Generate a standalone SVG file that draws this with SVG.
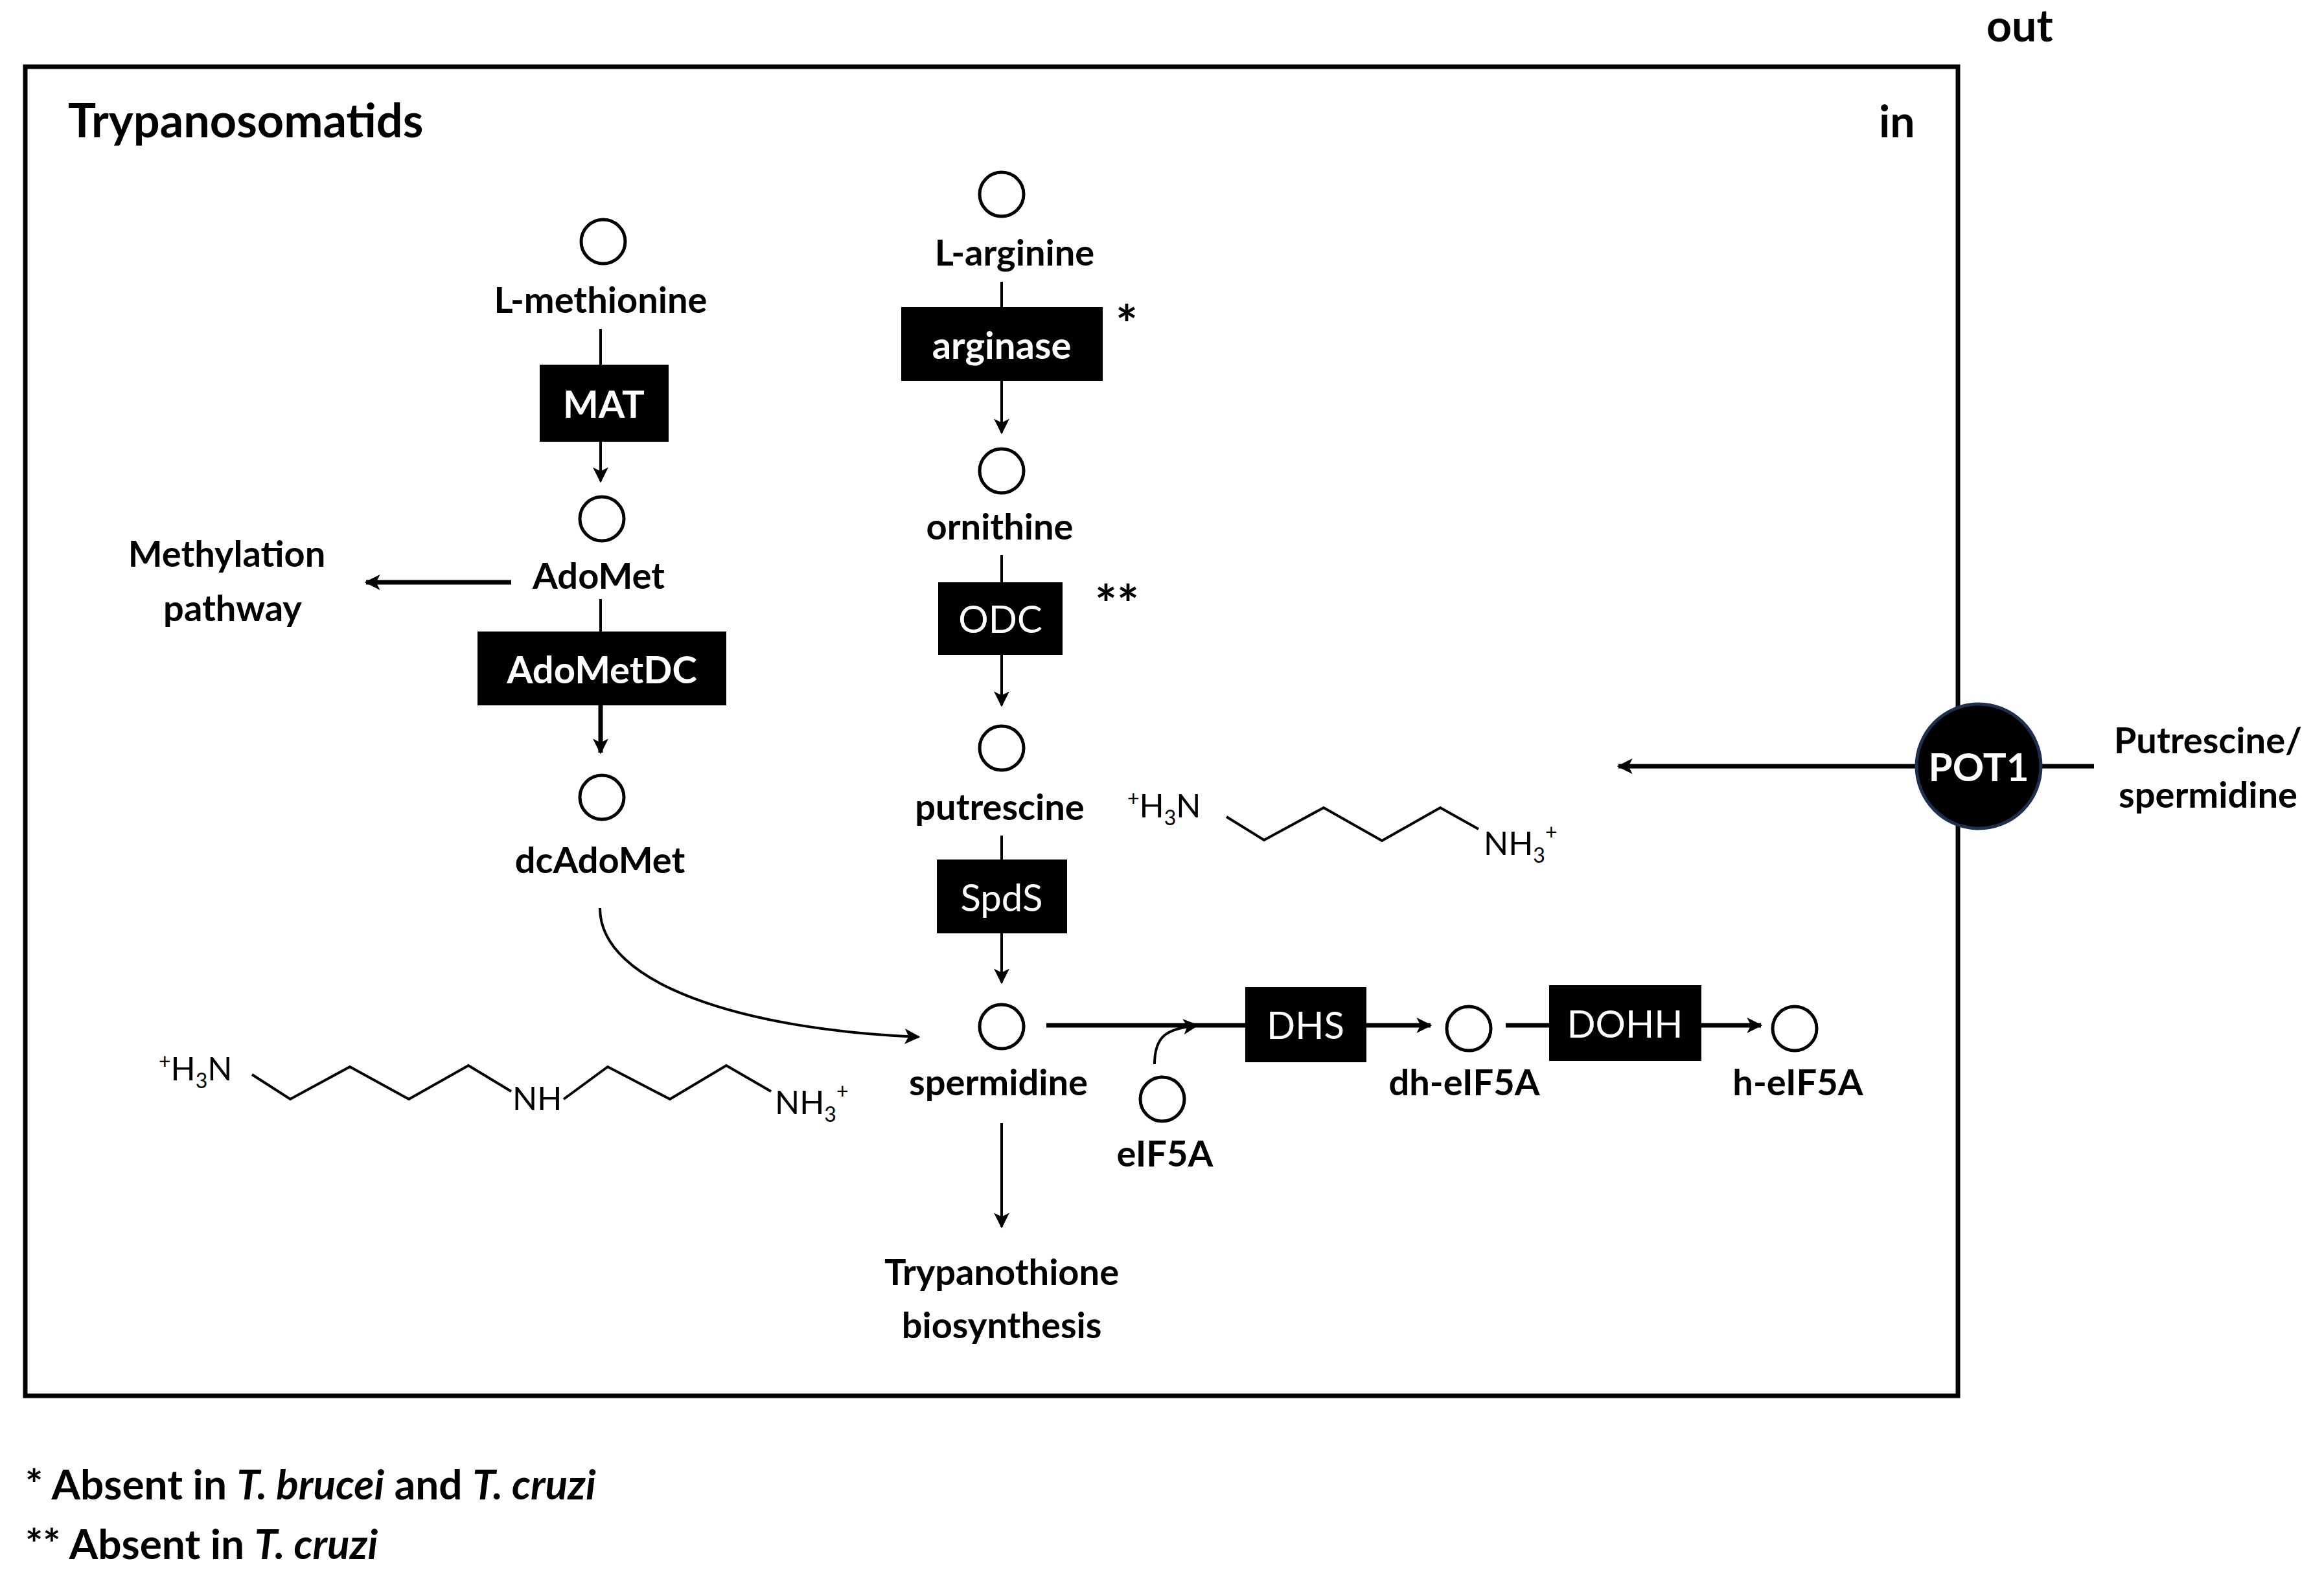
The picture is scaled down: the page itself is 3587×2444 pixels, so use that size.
<svg xmlns="http://www.w3.org/2000/svg" width="3587" height="2444" viewBox="0 0 3587 2444">
<defs>
<marker id="ah" viewBox="0 0 10 10" refX="9" refY="5" markerWidth="26" markerHeight="24" orient="auto" markerUnits="userSpaceOnUse"><path d="M0,0 L10,5 L0,10 L2.5,5 z" fill="#000"/></marker>
</defs>
<style>
text{font-family:Lato,"Open Sans","Liberation Sans",sans-serif;font-weight:bold;fill:#000}
.l{font-size:56px;text-anchor:middle}
.e{font-size:58px;fill:#fff;text-anchor:middle;dominant-baseline:central}
.n{font-weight:normal}
.c{fill:#fff;stroke:#000;stroke-width:5}
.b{fill:#000}
.ln{stroke:#000;stroke-width:4;fill:none}
.th{stroke:#000;stroke-width:7;fill:none}
.ch{font-size:50px;font-weight:normal}
.st{font-size:80px}
</style>
<rect width="3587" height="2444" fill="#fff"/>
<rect x="39" y="103" width="2983" height="2052" fill="none" stroke="#000" stroke-width="7"/>
<text x="3066" y="64" style="font-size:68px">out</text>
<text x="2900" y="212" style="font-size:68px">in</text>
<text x="105" y="212" style="font-size:72px">Trypanosomatids</text>

<g id="connectors">
<line class="ln" x1="927" y1="508" x2="927" y2="563"/>
<line class="ln" x1="927" y1="682" x2="927" y2="743" marker-end="url(#ah)"/>
<line class="ln" x1="927" y1="925" x2="927" y2="975"/>
<line class="th" x1="927" y1="1089" x2="927" y2="1162" marker-end="url(#ah)"/>
<line class="th" x1="789" y1="899" x2="565" y2="899" marker-end="url(#ah)"/>
<path class="ln" d="M926,1402 C926,1520 1150,1590 1418,1601" marker-end="url(#ah)"/>
<line class="ln" x1="1546" y1="435" x2="1546" y2="474"/>
<line class="ln" x1="1546" y1="588" x2="1546" y2="668" marker-end="url(#ah)"/>
<line class="ln" x1="1546" y1="857" x2="1546" y2="899"/>
<line class="ln" x1="1546" y1="1011" x2="1546" y2="1089" marker-end="url(#ah)"/>
<line class="ln" x1="1546" y1="1290" x2="1546" y2="1327"/>
<line class="ln" x1="1546" y1="1441" x2="1546" y2="1517" marker-end="url(#ah)"/>
<line class="ln" x1="1546" y1="1734" x2="1546" y2="1894" marker-end="url(#ah)"/>
<line class="th" x1="1615" y1="1583" x2="1922" y2="1583"/>
<path class="ln" d="M1782,1643 C1782,1600 1800,1588 1848,1583" marker-end="url(#ah)"/>
<line class="th" x1="2109" y1="1583" x2="2208" y2="1583" marker-end="url(#ah)"/>
<line class="th" x1="2324" y1="1583" x2="2391" y2="1583"/>
<line class="th" x1="2626" y1="1583" x2="2718" y2="1583" marker-end="url(#ah)"/>
<line class="th" x1="2956" y1="1183" x2="2498" y2="1183" marker-end="url(#ah)"/>
<line class="th" x1="3152" y1="1183" x2="3232" y2="1183"/>
</g>

<g id="L-methionine"><circle class="c" cx="931" cy="373" r="34"/><text class="l" x="927" y="483">L-methionine</text></g>
<g id="MAT"><rect class="b" x="833" y="563" width="199" height="119"/><text class="e" x="932" y="622">MAT</text></g>
<g id="AdoMet"><circle class="c" cx="929" cy="801" r="34"/><text class="l" x="924" y="909">AdoMet</text></g>
<g id="methylation"><text class="l" x="350" y="875">Methylation</text><text class="l" x="359" y="959">pathway</text></g>
<g id="AdoMetDC"><rect class="b" x="737" y="975" width="384" height="114"/><text class="e" x="929" y="1032">AdoMetDC</text></g>
<g id="dcAdoMet"><circle class="c" cx="929" cy="1231" r="34"/><text class="l" x="926" y="1348">dcAdoMet</text></g>

<g id="L-arginine"><circle class="c" cx="1546" cy="300" r="34"/><text class="l" x="1566" y="410">L-arginine</text></g>
<g id="arginase"><rect class="b" x="1391" y="474" width="311" height="114"/><text class="e" x="1546" y="531">arginase</text><text class="st" x="1722" y="530">*</text></g>
<g id="ornithine"><circle class="c" cx="1546" cy="727" r="34"/><text class="l" x="1543" y="833">ornithine</text></g>
<g id="ODC"><rect class="b" x="1448" y="899" width="192" height="112"/><text class="e n" x="1544" y="954">ODC</text><text class="st" x="1690" y="962">**</text></g>
<g id="putrescine"><circle class="c" cx="1546" cy="1155" r="34"/><text class="l" x="1543" y="1266">putrescine</text></g>
<g id="SpdS"><rect class="b" x="1446" y="1327" width="201" height="114"/><text class="e n" x="1546" y="1384">SpdS</text></g>
<g id="spermidine"><circle class="c" cx="1546" cy="1585" r="34"/><text class="l" x="1541" y="1691">spermidine</text></g>
<g id="trypanothione"><text class="l" x="1546" y="1984">Trypanothione</text><text class="l" x="1546" y="2066">biosynthesis</text></g>
<g id="eIF5A"><circle class="c" cx="1794" cy="1697" r="34"/><text class="l" x="1798" y="1801">eIF5A</text></g>
<g id="DHS"><rect class="b" x="1922" y="1524" width="187" height="116"/><text class="e n" x="2015" y="1581">DHS</text></g>
<g id="dh-eIF5A"><circle class="c" cx="2267" cy="1588" r="34"/><text class="l" x="2260" y="1691">dh-eIF5A</text></g>
<g id="DOHH"><rect class="b" x="2391" y="1521" width="235" height="117"/><text class="e n" x="2508" y="1579">DOHH</text></g>
<g id="h-eIF5A"><circle class="c" cx="2770" cy="1588" r="34"/><text class="l" x="2775" y="1691">h-eIF5A</text></g>
<g id="POT1"><circle cx="3054" cy="1183" r="96" fill="#000" stroke="#1f2f4f" stroke-width="5"/><text x="3054" y="1183" style="font-size:60px;fill:#fff;text-anchor:middle;dominant-baseline:central">POT1</text></g>
<g id="extracellular"><text class="l" x="3408" y="1163">Putrescine/</text><text class="l" x="3408" y="1247">spermidine</text></g>

<g id="putrescine-structure">
<text class="ch" x="1740" y="1262"><tspan font-size="32" dy="-18">+</tspan><tspan dy="18">H</tspan><tspan font-size="32" dy="12">3</tspan><tspan dy="-12">N</tspan></text>
<polyline class="ln" points="1893,1261 1951,1297 2043,1247 2133,1298 2223,1247 2282,1280"/>
<text class="ch" x="2290" y="1320">NH<tspan font-size="32" dy="12">3</tspan><tspan font-size="32" dy="-36">+</tspan></text>
</g>
<g id="spermidine-structure">
<text class="ch" x="245" y="1668"><tspan font-size="32" dy="-18">+</tspan><tspan dy="18">H</tspan><tspan font-size="32" dy="12">3</tspan><tspan dy="-12">N</tspan></text>
<polyline class="ln" points="389,1659 448,1697 540,1647 631,1697 723,1645 789,1685"/>
<text class="ch" x="791" y="1714">NH</text>
<polyline class="ln" points="870,1697 938,1647 1034,1697 1121,1645 1190,1685"/>
<text class="ch" x="1196" y="1720">NH<tspan font-size="32" dy="12">3</tspan><tspan font-size="32" dy="-36">+</tspan></text>
</g>

<g id="footnotes">
<text x="39" y="2315" style="font-size:64px">* Absent in <tspan font-style="italic">T. brucei</tspan> and <tspan font-style="italic">T. cruzi</tspan></text>
<text x="39" y="2407" style="font-size:64px">** Absent in <tspan font-style="italic">T. cruzi</tspan></text>
</g>
</svg>
